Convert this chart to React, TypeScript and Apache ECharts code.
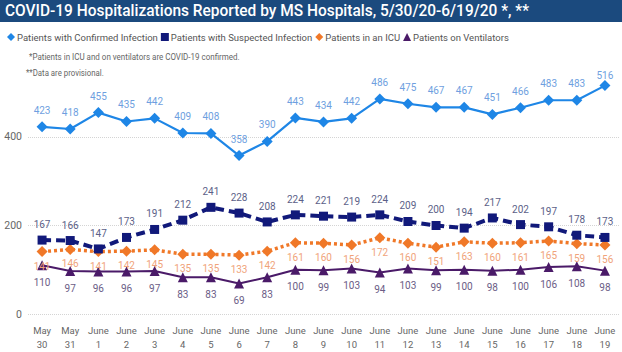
import React, { useEffect, useRef } from "react";
import * as echarts from "echarts";

const categories = [
  "May\n30", "May\n31", "June\n1", "June\n2", "June\n3", "June\n4", "June\n5", "June\n6", "June\n7",
  "June\n8", "June\n9", "June\n10", "June\n11", "June\n12", "June\n13", "June\n14", "June\n15",
  "June\n16", "June\n17", "June\n18", "June\n19",
];
const confirmed = [423, 418, 455, 435, 442, 409, 408, 358, 390, 443, 434, 442, 486, 475, 467, 467, 451, 466, 483, 483, 516];
const suspected = [167, 166, 147, 173, 191, 212, 241, 228, 208, 224, 221, 219, 224, 209, 200, 194, 217, 202, 197, 178, 173];
const icu = [141, 146, 141, 142, 145, 135, 135, 133, 142, 161, 160, 156, 172, 160, 151, 163, 160, 161, 165, 159, 156];
const ventilators = [110, 97, 96, 96, 97, 83, 83, 69, 83, 100, 99, 103, 94, 103, 99, 100, 98, 100, 106, 108, 98];
const gridValues = [0, 200, 400];

const FONT = "Roboto";

export default function App() {
  const ref = useRef<HTMLDivElement>(null);
  useEffect(() => {
    const chart = echarts.init(ref.current!, null, { renderer: "svg" });
    const lbl = (color: string, position: string, distance: number) => ({
      show: true,
      position,
      distance,
      color,
      fontSize: 10,
      fontFamily: FONT,
    });
    const lastIdx = confirmed.length - 1;
    chart.setOption({
      animation: false,
      backgroundColor: "#ffffff",
      graphic: [
        { type: "rect", x: 0, y: 0, shape: { width: 622, height: 22 }, style: { fill: "#1b4a7e" }, z: 0 },
        {
          type: "text", x: 5, y: 2, scaleX: 0.91,
          style: { text: "COVID-19 Hospitalizations Reported by MS Hospitals, 5/30/20-6/19/20 *, **", fill: "#ffffff", font: `500 17px ${FONT}`, verticalAlign: "top" },
          z: 1,
        },
        { type: "text", x: 29, y: 52, scaleX: 0.89, style: { text: "*Patients in ICU and on ventilators are COVID-19 confirmed.", fill: "#666666", font: `9px ${FONT}`, verticalAlign: "top" } },
        { type: "text", x: 26, y: 68, scaleX: 0.87, style: { text: "**Data are provisional.", fill: "#666666", font: `9px ${FONT}`, verticalAlign: "top" } },
      ],
      legend: {
        left: 2,
        top: 27,
        itemWidth: 8,
        itemHeight: 8,
        itemGap: 3,
        textStyle: { color: "#555555", fontSize: 9.5, fontFamily: FONT, padding: [0, 0, 0, -3] },
        data: [
          { name: "Patients with Confirmed Infection", icon: "diamond" },
          { name: "Patients with Suspected Infection", icon: "rect" },
          { name: "Patients in an ICU", icon: "diamond" },
          { name: "Patients on Ventilators", icon: "triangle" },
        ],
      },
      grid: { left: 28, right: 3, top: 75, bottom: 38 },
      xAxis: {
        type: "category",
        data: categories,
        axisLine: { show: false },
        axisTick: { show: false },
        axisLabel: { color: "#666666", fontSize: 9.5, fontFamily: FONT, lineHeight: 14, margin: 9, interval: 0 },
      },
      yAxis: {
        type: "value",
        min: 0,
        max: 540,
        interval: 200,
        splitLine: { show: false },
        axisLine: { show: false },
        axisTick: { show: false },
        axisLabel: {
          color: "#666666", fontSize: 10.5, fontFamily: FONT, margin: 6,
          formatter: (v: number) => (v % 200 === 0 ? String(v) : ""),
        },
      },
      series: [
        {
          name: "Patients with Confirmed Infection",
          type: "line",
          data: confirmed.map((v, i) => (i === lastIdx ? { value: v, label: { distance: 0 } } : v)),
          symbol: "diamond",
          symbolSize: 11,
          itemStyle: { color: "#1e86e6" },
          lineStyle: { color: "#1e86e6", width: 2.2 },
          label: lbl("#6f9fe0", "top", 6),
          z: 4,
          markLine: {
            silent: true,
            symbol: ["none", "none"],
            label: { show: false },
            lineStyle: { color: "#d4d4d4", type: "dotted", width: 1 },
            data: gridValues.map((v) => ({ yAxis: v })),
            z: 1,
          },
        },
        {
          name: "Patients with Suspected Infection",
          type: "line",
          data: suspected,
          symbol: "rect",
          symbolSize: 9,
          itemStyle: { color: "#11197a" },
          lineStyle: { color: "#11197a", width: 4, type: [9, 5] },
          label: lbl("#5c5f88", "top", 6),
          z: 3,
        },
        {
          name: "Patients in an ICU",
          type: "line",
          data: icu,
          symbol: "diamond",
          symbolSize: 11,
          itemStyle: { color: "#f07828" },
          lineStyle: { color: "#f07828", width: 3.5, type: [3, 3] },
          label: lbl("#f0a37a", "bottom", 4),
          z: 2,
        },
        {
          name: "Patients on Ventilators",
          type: "line",
          data: ventilators,
          symbol: "triangle",
          symbolSize: 10,
          itemStyle: { color: "#4a1a68" },
          lineStyle: { color: "#4a1a68", width: 2 },
          label: lbl("#6b5d86", "bottom", 7),
          z: 2,
        },
      ],
    });
    return () => chart.dispose();
  }, []);
  return <div ref={ref} style={{ position: "fixed", left: 0, top: 0, width: 622, height: 352 }} />;
}
